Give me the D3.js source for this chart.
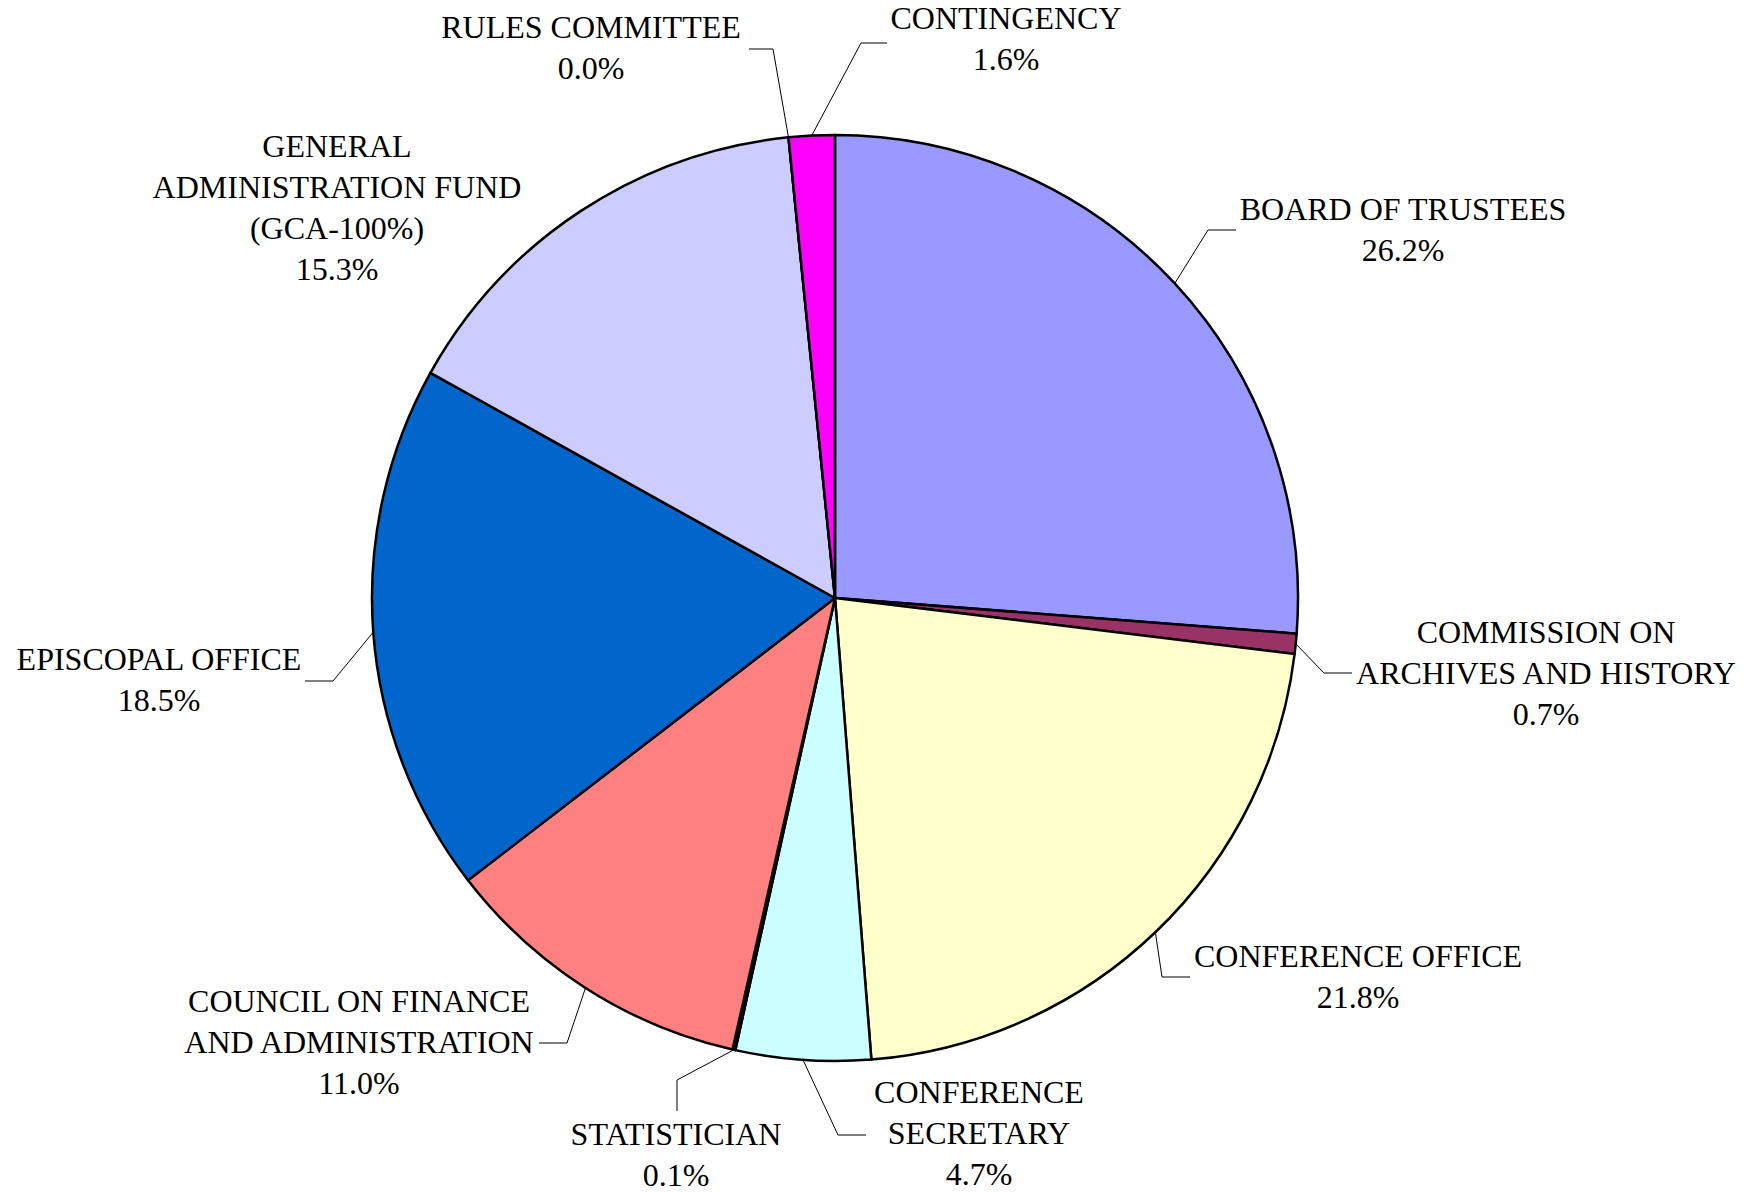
<!DOCTYPE html>
<html lang="en">
<head>
    <meta charset="UTF-8">
    <title>Budget Distribution Pie Chart</title>
    <script src="https://cdn.jsdelivr.net/npm/d3@7/dist/d3.min.js"></script>
    <style>
        body { margin: 0; background: #fff; }
        .leader {
            fill: none;
            stroke: #000;
            stroke-width: 1;
        }
    </style>
</head>
<body>
    <div id="chart"></div>
    <script>
        // Slices, clockwise from 12 o'clock
        const categories = [
            "BOARD OF TRUSTEES",
            "COMMISSION ON\nARCHIVES AND HISTORY",
            "CONFERENCE OFFICE",
            "CONFERENCE\nSECRETARY",
            "STATISTICIAN",
            "COUNCIL ON FINANCE\nAND ADMINISTRATION",
            "EPISCOPAL OFFICE",
            "GENERAL\nADMINISTRATION FUND\n(GCA-100%)",
            "RULES COMMITTEE",
            "CONTINGENCY"
        ];
        const values = [26.2, 0.7, 21.8, 4.7, 0.1, 11.0, 18.5, 15.3, 0.0, 1.6];
        const colors = ["#9999FF", "#993366", "#FFFFCC", "#CCFFFF", "#660066",
                        "#FF8080", "#0066CC", "#CCCCFF", "#000080", "#FF00FF"];

        // label placement: text centre x, first line centre y, leader elbow, leader end
        const labelLayout = [
            { x: 1403, y: 210, elbow: [1208, 230], end: [1236, 230] },
            { x: 1546, y: 633, elbow: [1324, 673], end: [1352, 673] },
            { x: 1358, y: 957, elbow: [1162, 977], end: [1190, 977] },
            { x: 979,  y: 1093, elbow: [838, 1135], end: [866, 1135] },
            { x: 676,  y: 1135, elbow: [677, 1080], end: [677, 1111] },
            { x: 359,  y: 1002, elbow: [567, 1043], end: [539, 1043] },
            { x: 159,  y: 660, elbow: [333, 681], end: [305, 681] },
            { x: 337,  y: 147, elbow: null, end: null },
            { x: 591,  y: 28, elbow: [773, 49], end: [749, 49] },
            { x: 1006, y: 19, elbow: [861, 43], end: [887, 43] }
        ];

        const width = 1760, height = 1192;
        const cx = 835, cy = 598, radius = 463;
        const lineHeight = 41;

        const svg = d3.select("#chart")
            .append("svg")
            .attr("width", width)
            .attr("height", height);

        const g = svg.append("g")
            .attr("transform", "translate(" + cx + "," + cy + ")");

        const pie = d3.pie().sort(null).value(d => d);
        const arcs = pie(values);
        const arc = d3.arc().innerRadius(0).outerRadius(radius);

        g.selectAll("path.slice")
            .data(arcs)
            .enter().append("path")
            .attr("class", "slice")
            .attr("d", arc)
            .attr("fill", (d, i) => colors[i])
            .attr("stroke", "#000")
            .attr("stroke-width", 2.5)
            .attr("stroke-linejoin", "round");

        // leader lines start on the rim at each slice's mid angle
        const fmt = d3.format(".1f");
        arcs.forEach((d, i) => {
            const lay = labelLayout[i];
            if (lay.elbow) {
                const a = (d.startAngle + d.endAngle) / 2;
                const sx = cx + radius * Math.sin(a);
                const sy = cy - radius * Math.cos(a);
                svg.append("polyline")
                    .attr("class", "leader")
                    .attr("points", [[sx, sy], lay.elbow, lay.end].map(p => p.join(",")).join(" "));
            }

            const lines = categories[i].split("\n").concat(fmt(values[i]) + "%");
            const t = svg.append("text")
                .attr("font-family", "'Liberation Serif', 'Times New Roman', Times, serif")
                .attr("font-size", 32)
                .attr("fill", "#000")
                .attr("text-anchor", "middle");
            t.selectAll("tspan")
                .data(lines)
                .enter().append("tspan")
                .attr("x", lay.x)
                .attr("y", (l, j) => lay.y + j * lineHeight + 10)
                .text(l => l);
        });
    </script>
</body>
</html>
